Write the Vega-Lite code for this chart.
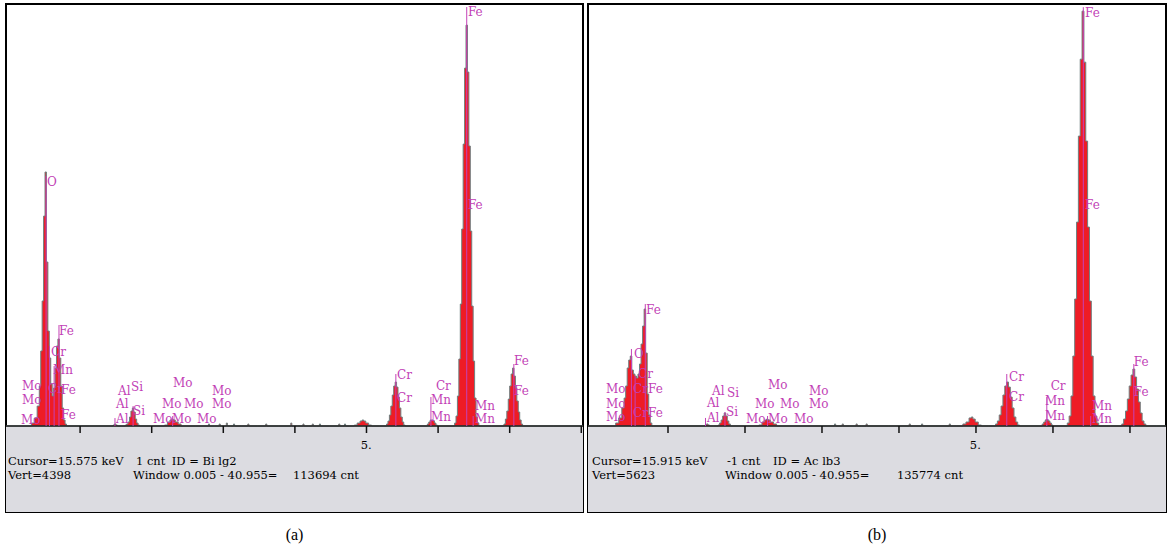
{
  "$schema": "https://vega.github.io/schema/vega-lite/v6.json",
  "padding": {"left": 3, "top": 3, "right": 2, "bottom": 0},
  "spacing": 5,
  "bounds": "flush",
  "config": {
    "view": {"stroke": "black", "strokeWidth": 2},
    "title": {"font": "Liberation Serif", "fontSize": 16, "fontWeight": "normal", "color": "black", "orient": "bottom", "offset": 15}
  },
  "datasets": {
    "specA": [
      {"e":-0.035,"c":0},{"e":0.30,"c":0},{"e":0.34,"c":31},{"e":0.38,"c":83},{"e":0.42,"c":208},{"e":0.44,"c":417},{"e":0.46,"c":782},{"e":0.48,"c":1303},{"e":0.50,"c":2188},{"e":0.52,"c":2647},{"e":0.54,"c":1709},{"e":0.56,"c":990},{"e":0.58,"c":709},{"e":0.60,"c":438},{"e":0.62,"c":313},{"e":0.64,"c":396},{"e":0.66,"c":604},{"e":0.68,"c":834},{"e":0.70,"c":907},{"e":0.72,"c":709},{"e":0.74,"c":417},{"e":0.76,"c":188},{"e":0.78,"c":63},{"e":0.80,"c":21},{"e":0.82,"c":0},
      {"e":1.45,"c":0},{"e":1.47,"c":10},{"e":1.49,"c":21},{"e":1.51,"c":10},{"e":1.53,"c":0},
      {"e":1.62,"c":0},{"e":1.64,"c":10},{"e":1.66,"c":21},{"e":1.68,"c":42},{"e":1.70,"c":94},{"e":1.72,"c":156},{"e":1.74,"c":188},{"e":1.76,"c":146},{"e":1.78,"c":73},{"e":1.80,"c":31},{"e":1.82,"c":10},{"e":1.84,"c":0},
      {"e":2.16,"c":0},{"e":2.20,"c":10},{"e":2.24,"c":42},{"e":2.27,"c":63},{"e":2.29,"c":73},{"e":2.31,"c":63},{"e":2.35,"c":42},{"e":2.39,"c":21},{"e":2.43,"c":0},
      {"e":2.785,"c":0},{"e":2.80,"c":21},{"e":2.815,"c":0},
      {"e":2.935,"c":0},{"e":2.95,"c":21},{"e":2.965,"c":0},
      {"e":3.035,"c":0},{"e":3.05,"c":31},{"e":3.065,"c":0},
      {"e":3.135,"c":0},{"e":3.15,"c":21},{"e":3.165,"c":0},
      {"e":3.335,"c":0},{"e":3.35,"c":21},{"e":3.365,"c":0},
      {"e":3.585,"c":0},{"e":3.60,"c":21},{"e":3.615,"c":0},
      {"e":3.935,"c":0},{"e":3.95,"c":31},{"e":3.965,"c":0},
      {"e":4.105,"c":0},{"e":4.12,"c":21},{"e":4.135,"c":0},
      {"e":4.235,"c":0},{"e":4.25,"c":21},{"e":4.265,"c":0},
      {"e":4.335,"c":0},{"e":4.35,"c":21},{"e":4.365,"c":0},
      {"e":4.605,"c":0},{"e":4.62,"c":21},{"e":4.635,"c":0},
      {"e":4.685,"c":0},{"e":4.70,"c":21},{"e":4.715,"c":0},
      {"e":4.81,"c":0},{"e":4.85,"c":10},{"e":4.89,"c":31},{"e":4.93,"c":52},{"e":4.95,"c":63},{"e":4.97,"c":52},{"e":5.01,"c":31},{"e":5.05,"c":10},{"e":5.09,"c":0},
      {"e":5.27,"c":0},{"e":5.29,"c":21},{"e":5.31,"c":52},{"e":5.33,"c":115},{"e":5.35,"c":208},{"e":5.37,"c":323},{"e":5.39,"c":417},{"e":5.41,"c":458},{"e":5.43,"c":406},{"e":5.45,"c":302},{"e":5.47,"c":188},{"e":5.49,"c":94},{"e":5.51,"c":42},{"e":5.53,"c":10},{"e":5.55,"c":0},
      {"e":5.84,"c":0},{"e":5.86,"c":21},{"e":5.88,"c":42},{"e":5.90,"c":63},{"e":5.92,"c":63},{"e":5.94,"c":52},{"e":5.96,"c":31},{"e":5.98,"c":10},{"e":6.00,"c":0},
      {"e":6.22,"c":0},{"e":6.24,"c":31},{"e":6.26,"c":104},{"e":6.28,"c":313},{"e":6.30,"c":698},{"e":6.32,"c":1271},{"e":6.34,"c":2053},{"e":6.36,"c":2938},{"e":6.38,"c":3730},{"e":6.40,"c":4178},{"e":6.42,"c":3689},{"e":6.44,"c":2918},{"e":6.46,"c":2032},{"e":6.48,"c":1250},{"e":6.50,"c":677},{"e":6.52,"c":292},{"e":6.54,"c":94},{"e":6.56,"c":31},{"e":6.58,"c":0},
      {"e":6.91,"c":0},{"e":6.93,"c":21},{"e":6.95,"c":73},{"e":6.97,"c":156},{"e":6.99,"c":281},{"e":7.01,"c":417},{"e":7.03,"c":542},{"e":7.05,"c":604},{"e":7.07,"c":521},{"e":7.09,"c":396},{"e":7.11,"c":261},{"e":7.13,"c":146},{"e":7.15,"c":63},{"e":7.17,"c":21},{"e":7.19,"c":0},
      {"e":8.024,"c":0}
    ],
    "specB": [
      {"e":-0.039,"c":0},{"e":0.30,"c":0},{"e":0.34,"c":40},{"e":0.38,"c":107},{"e":0.42,"c":240},{"e":0.44,"c":373},{"e":0.46,"c":533},{"e":0.48,"c":773},{"e":0.50,"c":879},{"e":0.52,"c":932},{"e":0.54,"c":746},{"e":0.56,"c":693},{"e":0.58,"c":666},{"e":0.60,"c":639},{"e":0.62,"c":693},{"e":0.64,"c":826},{"e":0.66,"c":1092},{"e":0.68,"c":1332},{"e":0.70,"c":1558},{"e":0.72,"c":972},{"e":0.74,"c":426},{"e":0.76,"c":147},{"e":0.78,"c":40},{"e":0.80,"c":0},
      {"e":1.47,"c":0},{"e":1.49,"c":13},{"e":1.51,"c":27},{"e":1.53,"c":13},{"e":1.55,"c":0},
      {"e":1.64,"c":0},{"e":1.66,"c":13},{"e":1.68,"c":40},{"e":1.70,"c":80},{"e":1.72,"c":133},{"e":1.74,"c":173},{"e":1.76,"c":133},{"e":1.78,"c":67},{"e":1.80,"c":27},{"e":1.82,"c":0},
      {"e":2.16,"c":0},{"e":2.20,"c":13},{"e":2.24,"c":53},{"e":2.27,"c":80},{"e":2.29,"c":93},{"e":2.31,"c":80},{"e":2.35,"c":53},{"e":2.39,"c":27},{"e":2.43,"c":0},
      {"e":3.155,"c":0},{"e":3.17,"c":27},{"e":3.185,"c":0},
      {"e":3.255,"c":0},{"e":3.27,"c":27},{"e":3.285,"c":0},
      {"e":3.435,"c":0},{"e":3.45,"c":27},{"e":3.465,"c":0},
      {"e":3.565,"c":0},{"e":3.58,"c":27},{"e":3.595,"c":0},
      {"e":4.125,"c":0},{"e":4.14,"c":27},{"e":4.155,"c":0},
      {"e":4.285,"c":0},{"e":4.30,"c":27},{"e":4.315,"c":0},
      {"e":4.645,"c":0},{"e":4.66,"c":27},{"e":4.675,"c":0},
      {"e":4.81,"c":0},{"e":4.85,"c":27},{"e":4.89,"c":53},{"e":4.93,"c":107},{"e":4.95,"c":120},{"e":4.97,"c":93},{"e":5.01,"c":53},{"e":5.05,"c":13},{"e":5.09,"c":0},
      {"e":5.242,"c":0},{"e":5.266,"c":27},{"e":5.29,"c":67},{"e":5.314,"c":147},{"e":5.338,"c":266},{"e":5.362,"c":413},{"e":5.386,"c":533},{"e":5.41,"c":586},{"e":5.434,"c":519},{"e":5.458,"c":386},{"e":5.482,"c":240},{"e":5.506,"c":120},{"e":5.53,"c":53},{"e":5.554,"c":13},{"e":5.578,"c":0},
      {"e":5.85,"c":0},{"e":5.87,"c":27},{"e":5.89,"c":53},{"e":5.91,"c":80},{"e":5.93,"c":80},{"e":5.95,"c":67},{"e":5.97,"c":40},{"e":5.99,"c":13},{"e":6.01,"c":0},
      {"e":6.174,"c":0},{"e":6.198,"c":40},{"e":6.222,"c":133},{"e":6.246,"c":400},{"e":6.27,"c":932},{"e":6.294,"c":1692},{"e":6.318,"c":2717},{"e":6.342,"c":3863},{"e":6.366,"c":4888},{"e":6.39,"c":5528},{"e":6.414,"c":4848},{"e":6.438,"c":3796},{"e":6.462,"c":2651},{"e":6.486,"c":1665},{"e":6.51,"c":932},{"e":6.534,"c":400},{"e":6.558,"c":133},{"e":6.582,"c":40},{"e":6.606,"c":0},
      {"e":6.882,"c":0},{"e":6.906,"c":27},{"e":6.93,"c":93},{"e":6.954,"c":200},{"e":6.978,"c":360},{"e":7.002,"c":533},{"e":7.026,"c":679},{"e":7.05,"c":759},{"e":7.074,"c":653},{"e":7.098,"c":493},{"e":7.122,"c":320},{"e":7.146,"c":173},{"e":7.17,"c":67},{"e":7.194,"c":27},{"e":7.218,"c":0},
      {"e":7.468,"c":0}
    ],
    "mkA": [
      {"e":0.525,"c":2605,"b":0},{"e":0.573,"c":834,"b":0},{"e":0.637,"c":625,"b":0},{"e":0.705,"c":1052,"b":0},{"e":1.487,"c":83,"b":0},{"e":1.74,"c":208,"b":0},{"e":2.293,"c":104,"b":0},{"e":5.41,"c":542,"b":0},{"e":5.90,"c":302,"b":0},{"e":6.40,"c":4366,"b":0},{"e":6.49,"c":104,"b":0},{"e":7.058,"c":646,"b":0}
    ],
    "mkB": [
      {"e":0.525,"c":1026,"b":0},{"e":0.573,"c":666,"b":0},{"e":0.705,"c":1625,"b":0},{"e":1.487,"c":107,"b":0},{"e":1.74,"c":186,"b":0},{"e":2.293,"c":133,"b":0},{"e":5.40,"c":693,"b":0},{"e":5.92,"c":386,"b":0},{"e":6.394,"c":5581,"b":0},{"e":6.49,"c":133,"b":0},{"e":7.05,"c":826,"b":0}
    ],
    "lblA": [
      {"e":0.538,"c":2542,"t":"O"},{"e":0.705,"c":990,"t":"Fe"},{"e":0.594,"c":771,"t":"Cr"},{"e":0.622,"c":583,"t":"Mn"},{"e":0.552,"c":386,"t":"Cr"},{"e":0.733,"c":375,"t":"Fe"},{"e":0.733,"c":115,"t":"Fe"},
      {"e":0.189,"c":417,"t":"Mo"},{"e":0.189,"c":271,"t":"Mo"},{"e":0.175,"c":63,"t":"Mo"},
      {"e":1.529,"c":365,"t":"Al"},{"e":1.71,"c":406,"t":"Si"},{"e":1.501,"c":229,"t":"Al"},{"e":1.739,"c":156,"t":"Si"},{"e":1.501,"c":73,"t":"Al"},
      {"e":2.297,"c":448,"t":"Mo"},{"e":2.144,"c":229,"t":"Mo"},{"e":2.451,"c":229,"t":"Mo"},{"e":2.842,"c":365,"t":"Mo"},{"e":2.842,"c":229,"t":"Mo"},{"e":2.018,"c":73,"t":"Mo"},{"e":2.284,"c":73,"t":"Mo"},{"e":2.633,"c":73,"t":"Mo"},
      {"e":5.426,"c":531,"t":"Cr"},{"e":5.426,"c":292,"t":"Cr"},{"e":5.97,"c":417,"t":"Cr"},{"e":5.90,"c":271,"t":"Mn"},{"e":5.90,"c":94,"t":"Mn"},
      {"e":6.417,"c":4314,"t":"Fe"},{"e":6.417,"c":2303,"t":"Fe"},{"e":6.515,"c":208,"t":"Mn"},{"e":6.515,"c":73,"t":"Mn"},{"e":7.06,"c":677,"t":"Fe"},{"e":7.06,"c":365,"t":"Fe"}
    ],
    "lblB": [
      {"e":0.714,"c":1545,"t":"Fe"},{"e":0.558,"c":959,"t":"O"},{"e":0.61,"c":693,"t":"Cr"},{"e":0.195,"c":493,"t":"Mo"},{"e":0.74,"c":493,"t":"Fe"},{"e":0.195,"c":293,"t":"Mo"},{"e":0.195,"c":120,"t":"Mo"},{"e":0.74,"c":173,"t":"Fe"},{"e":0.545,"c":493,"t":"Cr"},{"e":0.545,"c":173,"t":"Cr"},
      {"e":1.571,"c":466,"t":"Al"},{"e":1.766,"c":440,"t":"Si"},{"e":1.506,"c":306,"t":"Al"},{"e":1.753,"c":186,"t":"Si"},{"e":1.506,"c":107,"t":"Al"},
      {"e":2.299,"c":546,"t":"Mo"},{"e":2.13,"c":293,"t":"Mo"},{"e":2.455,"c":293,"t":"Mo"},{"e":2.83,"c":466,"t":"Mo"},{"e":2.83,"c":293,"t":"Mo"},{"e":2.013,"c":93,"t":"Mo"},{"e":2.30,"c":93,"t":"Mo"},{"e":2.636,"c":93,"t":"Mo"},
      {"e":6.416,"c":5501,"t":"Fe"},{"e":6.416,"c":2944,"t":"Fe"},{"e":5.43,"c":653,"t":"Cr"},{"e":5.43,"c":386,"t":"Cr"},{"e":5.97,"c":533,"t":"Cr"},{"e":5.896,"c":333,"t":"Mn"},{"e":5.896,"c":133,"t":"Mn"},{"e":6.506,"c":266,"t":"Mn"},{"e":6.506,"c":93,"t":"Mn"},{"e":7.05,"c":852,"t":"Fe"},{"e":7.05,"c":453,"t":"Fe"}
    ],
    "txtA": [
      {"e":-0.007,"c":-375,"t":"Cursor=15.575 keV"},{"e":1.78,"c":-375,"t":"1 cnt"},{"e":2.28,"c":-375,"t":"ID = Bi lg2"},
      {"e":-0.007,"c":-521,"t":"Vert=4398"},{"e":1.739,"c":-521,"t":"Window 0.005 - 40.955="},{"e":3.973,"c":-521,"t":"113694 cnt"},
      {"e":4.92,"c":-208,"t":"5."}
    ],
    "txtB": [
      {"e":0.013,"c":-480,"t":"Cursor=15.915 keV"},{"e":1.766,"c":-480,"t":"-1 cnt"},{"e":2.364,"c":-480,"t":"ID = Ac lb3"},
      {"e":0.013,"c":-666,"t":"Vert=5623"},{"e":1.74,"c":-666,"t":"Window 0.005 - 40.955="},{"e":3.974,"c":-666,"t":"135774 cnt"},
      {"e":4.92,"c":-266,"t":"5."}
    ],
    "ticksA": [{"e":1,"c":0,"b":-73},{"e":2,"c":0,"b":-73},{"e":3,"c":0,"b":-73},{"e":4,"c":0,"b":-73},{"e":5,"c":0,"b":-73},{"e":6,"c":0,"b":-73},{"e":7,"c":0,"b":-73},{"e":8,"c":0,"b":-73}],
    "ticksB": [{"e":1,"c":0,"b":-93},{"e":2,"c":0,"b":-93},{"e":3,"c":0,"b":-93},{"e":4,"c":0,"b":-93},{"e":5,"c":0,"b":-93},{"e":6,"c":0,"b":-93},{"e":7,"c":0,"b":-93}],
    "panelA": [{"x1":-0.035,"x2":8.024,"lo":-896,"hi":0}],
    "panelB": [{"x1":-0.039,"x2":7.468,"lo":-1146,"hi":0}]
  },
  "hconcat": [
    {
      "width": 577,
      "height": 508,
      "title": "(a)",
      "layer": [
        {
          "data": {"name": "panelA"},
          "mark": {"type": "rect", "fill": "#dcdce1"},
          "encoding": {
            "x": {"field": "x1", "type": "quantitative", "scale": {"domain": [-0.035, 8.024], "nice": false, "zero": false}, "axis": null},
            "x2": {"field": "x2"},
            "y": {"field": "lo", "type": "quantitative", "scale": {"domain": [-896, 4398], "nice": false, "zero": false}, "axis": null},
            "y2": {"field": "hi"}
          }
        },
        {
          "data": {"name": "specA"},
          "mark": {"type": "area", "interpolate": "step", "fill": "#ee1c25", "stroke": "#6f8080", "strokeWidth": 1},
          "encoding": {
            "x": {"field": "e", "type": "quantitative", "axis": null},
            "y": {"field": "c", "type": "quantitative", "axis": null}
          }
        },
        {
          "data": {"name": "panelA"},
          "mark": {"type": "rule", "color": "#222222", "strokeWidth": 1.5},
          "encoding": {
            "x": {"field": "x1", "type": "quantitative", "axis": null},
            "x2": {"field": "x2"},
            "y": {"field": "hi", "type": "quantitative", "axis": null}
          }
        },
        {
          "data": {"name": "ticksA"},
          "mark": {"type": "rule", "color": "#111111", "strokeWidth": 1.5},
          "encoding": {
            "x": {"field": "e", "type": "quantitative", "axis": null},
            "y": {"field": "c", "type": "quantitative", "axis": null},
            "y2": {"field": "b"}
          }
        },
        {
          "data": {"name": "mkA"},
          "mark": {"type": "rule", "color": "#c442b8", "strokeWidth": 1},
          "encoding": {
            "x": {"field": "e", "type": "quantitative", "axis": null},
            "y": {"field": "c", "type": "quantitative", "axis": null},
            "y2": {"field": "b"}
          }
        },
        {
          "data": {"name": "lblA"},
          "mark": {"type": "text", "font": "DejaVu Serif", "fontSize": 12, "align": "left", "baseline": "middle", "color": "#c23fb6"},
          "encoding": {
            "x": {"field": "e", "type": "quantitative", "axis": null},
            "y": {"field": "c", "type": "quantitative", "axis": null},
            "text": {"field": "t", "type": "nominal"}
          }
        },
        {
          "data": {"name": "txtA"},
          "mark": {"type": "text", "font": "DejaVu Serif", "fontSize": 11.5, "align": "left", "baseline": "middle", "color": "black"},
          "encoding": {
            "x": {"field": "e", "type": "quantitative", "axis": null},
            "y": {"field": "c", "type": "quantitative", "axis": null},
            "text": {"field": "t", "type": "nominal"}
          }
        }
      ]
    },
    {
      "width": 578,
      "height": 508,
      "title": "(b)",
      "layer": [
        {
          "data": {"name": "panelB"},
          "mark": {"type": "rect", "fill": "#dcdce1"},
          "encoding": {
            "x": {"field": "x1", "type": "quantitative", "scale": {"domain": [-0.039, 7.468], "nice": false, "zero": false}, "axis": null},
            "x2": {"field": "x2"},
            "y": {"field": "lo", "type": "quantitative", "scale": {"domain": [-1146, 5623], "nice": false, "zero": false}, "axis": null},
            "y2": {"field": "hi"}
          }
        },
        {
          "data": {"name": "specB"},
          "mark": {"type": "area", "interpolate": "step", "fill": "#ee1c25", "stroke": "#6f8080", "strokeWidth": 1},
          "encoding": {
            "x": {"field": "e", "type": "quantitative", "axis": null},
            "y": {"field": "c", "type": "quantitative", "axis": null}
          }
        },
        {
          "data": {"name": "panelB"},
          "mark": {"type": "rule", "color": "#222222", "strokeWidth": 1.5},
          "encoding": {
            "x": {"field": "x1", "type": "quantitative", "axis": null},
            "x2": {"field": "x2"},
            "y": {"field": "hi", "type": "quantitative", "axis": null}
          }
        },
        {
          "data": {"name": "ticksB"},
          "mark": {"type": "rule", "color": "#111111", "strokeWidth": 1.5},
          "encoding": {
            "x": {"field": "e", "type": "quantitative", "axis": null},
            "y": {"field": "c", "type": "quantitative", "axis": null},
            "y2": {"field": "b"}
          }
        },
        {
          "data": {"name": "mkB"},
          "mark": {"type": "rule", "color": "#c442b8", "strokeWidth": 1},
          "encoding": {
            "x": {"field": "e", "type": "quantitative", "axis": null},
            "y": {"field": "c", "type": "quantitative", "axis": null},
            "y2": {"field": "b"}
          }
        },
        {
          "data": {"name": "lblB"},
          "mark": {"type": "text", "font": "DejaVu Serif", "fontSize": 12, "align": "left", "baseline": "middle", "color": "#c23fb6"},
          "encoding": {
            "x": {"field": "e", "type": "quantitative", "axis": null},
            "y": {"field": "c", "type": "quantitative", "axis": null},
            "text": {"field": "t", "type": "nominal"}
          }
        },
        {
          "data": {"name": "txtB"},
          "mark": {"type": "text", "font": "DejaVu Serif", "fontSize": 11.5, "align": "left", "baseline": "middle", "color": "black"},
          "encoding": {
            "x": {"field": "e", "type": "quantitative", "axis": null},
            "y": {"field": "c", "type": "quantitative", "axis": null},
            "text": {"field": "t", "type": "nominal"}
          }
        }
      ]
    }
  ]
}
